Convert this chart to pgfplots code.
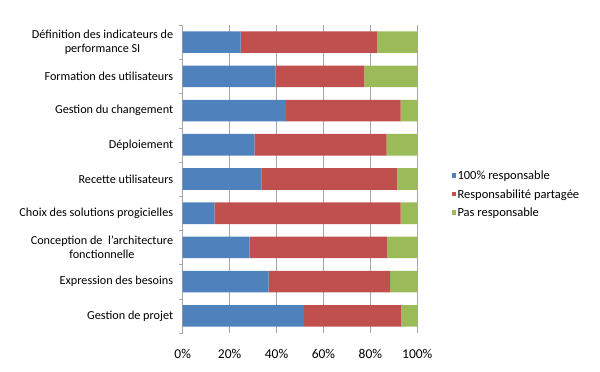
\documentclass[border=0pt]{standalone}
\usepackage{pgfplots}
\pgfplotsset{compat=1.18}
\usepackage{fontspec}
\setmainfont{Carlito}
\definecolor{cblue}{HTML}{4F81BD}
\definecolor{cred}{HTML}{C0504D}
\definecolor{cgreen}{HTML}{9BBB59}
\definecolor{cgrid}{HTML}{A6A6A6}
\begin{document}
\begin{tikzpicture}
\useasboundingbox (0,0) rectangle (600pt,372pt);
\begin{axis}[
  at={(182.7pt,39pt)}, anchor=south west,
  scale only axis, width=234.6pt, height=308pt,
  xbar stacked, bar width=21.6pt,
  xmin=0, xmax=100, ymin=-0.5, ymax=8.5,
  xtick={0,20,40,60,80,100},
  xticklabel={\pgfmathprintnumber{\tick}\%},
  xticklabel style={font=\fontsize{13.5}{15}\selectfont, yshift=-13pt},
  /pgf/number format/assume math mode=true,
  ytick={0,...,8},
  yticklabels={Gestion de projet, Expression des besoins, {Conception de~ l'architecture\\fonctionnelle}, Choix des solutions progicielles, Recette utilisateurs, Déploiement, Gestion du changement, Formation des utilisateurs, {Définition des indicateurs de\\performance SI}},
  yticklabel style={font=\fontsize{12.2}{13.5}\selectfont, align=center, xshift=-6pt},
  minor ytick={-0.5,0.5,...,8.5},
  major tick length=0pt,
  minor tick length=4pt,
  tick align=outside,
  minor tick style={cgrid},
  xmajorgrids, grid style={cgrid, line width=0.6pt},
  axis lines*=left,
  x axis line style={draw=none},
  y axis line style={cgrid, line width=0.6pt, -},
  legend cell align=left,
  legend style={at={(rel axis cs:1.145,0.532)}, anchor=north west, draw=none, fill=none,
    font=\fontsize{12.5}{14}\selectfont, row sep=5.3pt, inner sep=0pt,
    nodes={inner sep=1.5pt}},
  legend image code/.code={\fill[#1] (0pt,-2pt) rectangle (4.5pt,2.5pt);},
]
\addplot[fill=cblue, draw=none] coordinates {(51.8,0) (36.6,1) (28.5,2) (13.5,3) (33.5,4) (30.5,5) (44,6) (39.5,7) (24.7,8)};
\addplot[fill=cred, draw=none] coordinates {(41.4,0) (51.8,1) (58.7,2) (79.4,3) (58,4) (56.4,5) (48.9,6) (37.9,7) (58.3,8)};
\addplot[fill=cgreen, draw=none] coordinates {(6.8,0) (11.6,1) (12.8,2) (7.1,3) (8.5,4) (13.1,5) (7.1,6) (22.6,7) (17,8)};
\legend{100\% responsable, Responsabilité partagée, Pas responsable}
\end{axis}
\end{tikzpicture}
\end{document}
